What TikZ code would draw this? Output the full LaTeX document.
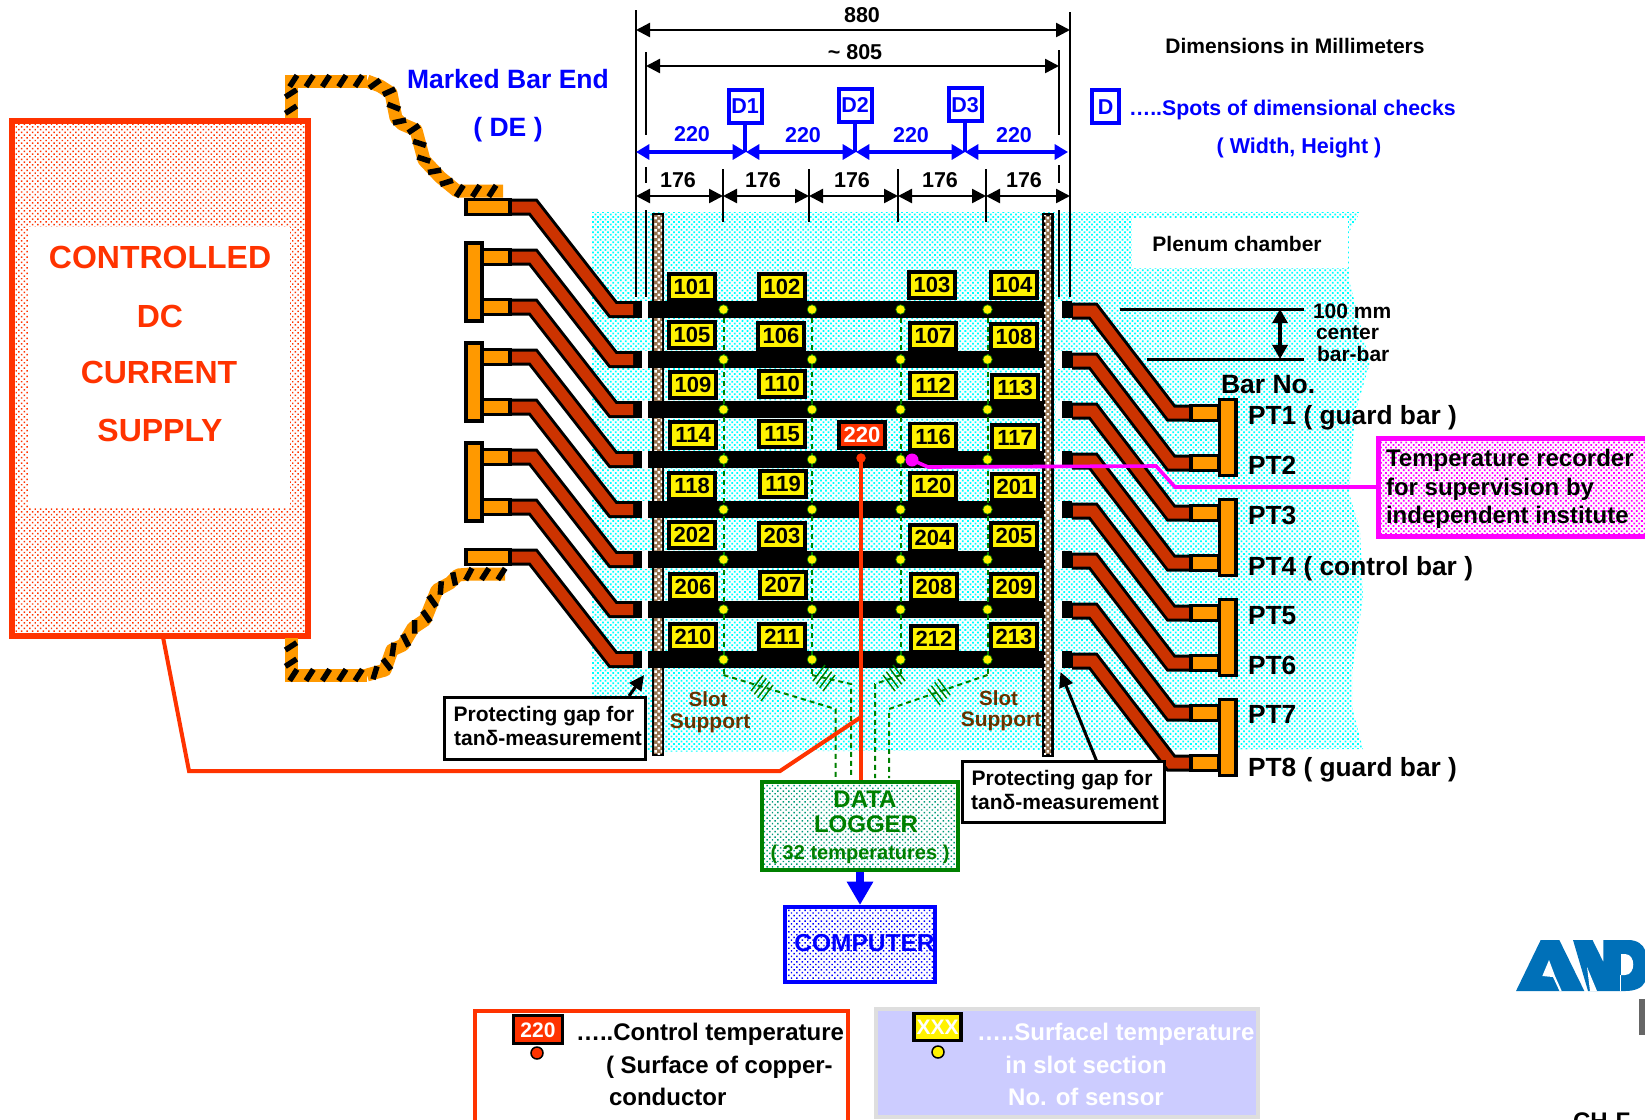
\documentclass[tikz,border=0pt]{standalone}
\usepackage{fontspec}
\setmainfont{Liberation Sans}
\usetikzlibrary{arrows.meta,patterns.meta,decorations.markings,calc}
\definecolor{cred}{HTML}{FF3300}
\definecolor{ccop}{HTML}{CC3300}
\definecolor{corg}{HTML}{FF9900}
\definecolor{cblue}{HTML}{0000FF}
\definecolor{cgreen}{HTML}{008000}
\definecolor{cteal}{HTML}{009A78}
\definecolor{cbrown}{HTML}{663300}
\definecolor{cmag}{HTML}{FF00FF}
\definecolor{ccyan}{HTML}{00FFFF}
\definecolor{clogo}{HTML}{0070B8}
\def\pu{0.6pt}
\tikzset{
  ft/.style={font=\fontsize{\fpeval{#1*0.6}pt}{\fpeval{#1*0.7}pt}\selectfont\bfseries,
     text height=#1*0.43pt,text depth=0pt,inner sep=0pt,outer sep=0pt},
  dotfill/.style={pattern={Dots[angle=45,distance=2.15pt,radius=0.75pt]},pattern color=#1},
  dotlight/.style={pattern={Dots[angle=45,distance=2.3pt,radius=0.62pt]},pattern color=#1},
  dimline/.style={black,line width=2.4*\pu},
  dimarrow/.style={black,line width=2.4*\pu,{Triangle[length=8.4pt,width=8.4pt]}-{Triangle[length=8.4pt,width=8.4pt]}},
  bluearrow/.style={cblue,line width=3.2*\pu,{Triangle[length=8pt,width=9pt]}-{Triangle[length=8pt,width=9pt]}},
  dbox/.style={draw=cblue,line width=4*\pu,fill=white,minimum width=33*\pu,minimum height=33*\pu,inner sep=0pt,ft=21.5,text=cblue},
  barstrip/.style={fill=black,draw=none},
  term/.style={fill=corg,draw=black,line width=3.5*\pu},
  coppero/.style={draw=black,line width=17*\pu,miter limit=10},
  copperi/.style={draw=ccop,line width=11*\pu,miter limit=10},
  templabel/.style={draw=black,line width=3.8*\pu,fill=yellow,minimum width=46.5*\pu,minimum height=26*\pu,ft=22,inner sep=0pt},
  sensor/.style={circle,fill=yellow,draw=green!50!black,line width=0.4pt,minimum size=9.5*\pu,inner sep=0pt},
  gdash/.style={cgreen,line width=2*\pu,dash pattern=on 5*\pu off 4*\pu},
  hatchl/.style={cgreen,line width=1.4*\pu},
  gapbox/.style={draw=black,line width=3*\pu,fill=white},
  stripes/.style={draw=corg,line width=13*\pu,line join=round,
     postaction={decorate,decoration={markings,mark=between positions 5pt and 1 step 9.8pt with
       {\draw[black,line width=3.3pt,line cap=butt] (#1*-2.2pt,-3.4pt)--(#1*2.2pt,3.4pt);}}}},
  slotstrip/.style={fill=cbrown!70!white,draw=black},
  slotdots/.style={pattern={Dots[angle=45,distance=2.6pt,radius=1.05pt]},pattern color=white},
}
\begin{document}
\begin{tikzpicture}[x=0.6pt,y=-0.6pt]
\useasboundingbox (0,0) rectangle (1645,1119);
\clip (0,0) rectangle (1645,1119);
% plenum
\path[dotfill=ccyan] (592,212) -- (1360,212) -- (1349,232) -- (1349,280) -- (1370,363) -- (1355,413) -- (1349,493) -- (1360,530) -- (1363,597) -- (1352,673) -- (1352,707) -- (1363,749) -- (592,752) -- cycle;
\node[fill=white,minimum width=216*\pu,minimum height=50*\pu,inner sep=0pt] (plenumbg) at (1240,243) {};
\node[ft=21] (plenum) at (1237,244) {Plenum chamber};
% slot supports
\path[slotstrip,line width=2.4*\pu] (653,214) rectangle (663,755);
\path[slotdots] (654,215) rectangle (662,754);
\path[slotstrip,line width=3*\pu] (1043,214) rectangle (1052,755);
\path[slotdots] (1044,215) rectangle (1051,754);
% main dimension lines
\coordinate (dl0) at (636,10); \coordinate (dl1) at (636,297);
\coordinate (dr0) at (1070,12); \coordinate (dr1) at (1070,297);
\draw[dimline] (dl0)--(dl1);
\draw[dimline] (dr0)--(dr1);
\draw[dimline] (646,52)--(646,135) (646,167)--(646,183) (646,210)--(646,297);
\draw[dimline] (1059,50)--(1059,135) (1059,165)--(1059,183) (1059,210)--(1059,297);
\node[ft=21.5] (t880) at (862,15) {880};
\draw[dimarrow] (dl0|-0,30)--(dr0|-0,30);
\node[ft=21.5] (t805) at (855,52) {\textasciitilde{} 805};
\draw[dimarrow] (646,66)--(1059,66);
% 176 row
\foreach \x/\n in {723/a,809/b,898/c,986/d}{\coordinate (tk\n) at (\x,169); \draw[dimline] (tk\n)--(\x,222);}
\draw[dimarrow] (636,196)--(723,196);
\draw[dimarrow] (723,196)--(809,196);
\draw[dimarrow] (809,196)--(898,196);
\draw[dimarrow] (898,196)--(986,196);
\draw[dimarrow] (986,196)--(1070,196);
\foreach \x/\n in {678/a,763/b,852/c,940/d,1024/e}{\node[ft=21.5] (s\n) at (\x,180) {176};}
% 220 row
\node[dbox] (D1) at (745,106) {D1};
\node[dbox] (D2) at (855,105) {D2};
\node[dbox] (D3) at (965,104.5) {D3};
\foreach \n in {1,2,3}{\draw[cblue,line width=4*\pu] (D\n.south)--(D\n.south|-0,152);}
\draw[bluearrow] (636,152)--(746,152);
\draw[bluearrow] (746,152)--(856,152);
\draw[bluearrow] (856,152)--(965,152);
\draw[bluearrow] (965,152)--(1068,152);
\foreach \x/\y/\n in {692/134/a,803/135/b,911/135/c,1014/135/d}{\node[ft=21.5,text=cblue] (bl\n) at (\x,\y) {220};}
\node[ft=21] (dimtxt) at (1295,46) {Dimensions in Millimeters};
\node[dbox,minimum width=27*\pu] (Dleg) at (1105.5,106.5) {D};
\node[ft=21.3,text=cblue,anchor=west] (spots) at (1129,108) {…..Spots of dimensional checks};
\node[ft=21.5,text=cblue] (wh) at (1299,146) {( Width, Height )};
\node[ft=26.5,text=cblue] (mbe) at (508,79) {Marked Bar End};
\node[ft=26.5,text=cblue] (de) at (508,127) {( DE )};
% supply
\node[dotlight=cred,draw=cred,line width=6*\pu,minimum width=296*\pu,minimum height=515*\pu,inner sep=0pt] (supply) at (160,378.5) {};
\node[fill=white,minimum width=262*\pu,minimum height=281*\pu,inner sep=0pt] (supplyin) at (159,367.5) {};
\node[ft=32,text=cred] (sa) at (160,257) {CONTROLLED};
\node[ft=32,text=cred] (sb) at (160,316) {DC};
\node[ft=32,text=cred] (sc) at (159,372) {CURRENT};
\node[ft=32,text=cred] (sd) at (160,430) {SUPPLY};
% striped cables
\draw[stripes=-1] (291,118)--(291,87);
\draw[stripes=1] (285,81)--(367,81);
\draw[stripes=1] (367,81) -- (380,86) -- (391,93) -- (396,118) -- (402,124) -- (416,130) -- (424,160) -- (440,177) -- (457,191) -- (503,191);
\draw[stripes=-1] (291,638)--(291,669);
\draw[stripes=1] (285,675)--(367,675);
\draw[stripes=1] (367,675) -- (385,670) -- (392,650) -- (403,645) -- (413,628) -- (425,620) -- (437,590) -- (450,583) -- (458,575) -- (470,574) -- (505,574);
% bars, strips
\foreach \r in {0,...,7}{
  \pgfmathsetmacro\yy{309.5+50*\r}
  \pgfmathsetmacro\yl{\yy-102.5}
  \pgfmathsetmacro\yR{\yy+1.5}
  \pgfmathsetmacro\yS{\yy+103.5}
  \fill[white] (642,\yy-9) rectangle (648,\yy+9);
  \fill[white] (1056,\yy-9) rectangle (1062,\yy+9);
  \node[barstrip,minimum width=395*\pu,minimum height=17*\pu,inner sep=0pt] (bar\r) at (845.5,\yy) {};
  \fill[black] (633,\yy-8.5) rectangle (642,\yy+8.5);
  \fill[black] (1062,\yy-8.5) rectangle (1072,\yy+8.5);
  \draw[coppero] (511,\yl)--(533,\yl)--(613,\yy)--(634,\yy);
  \draw[copperi] (511,\yl)--(533,\yl)--(613,\yy)--(633,\yy);
  \draw[coppero] (1072,\yR)--(1093,\yR)--(1171,\yS)--(1191,\yS);
  \draw[copperi] (1073,\yR)--(1093,\yR)--(1171,\yS)--(1190,\yS);
  \draw[term] (1191,\yS-7.5) rectangle (1219,\yS+7.5);
}
% left terminals
\draw[term] (466,199.5) rectangle (510,214.5);
\draw[term] (466,549.5) rectangle (510,564.5);
\foreach \a in {257,357,457}{
  \pgfmathsetmacro\b{\a+50}
  \draw[term] (482,\a-7.5) rectangle (510,\a+7.5);
  \draw[term] (482,\b-7.5) rectangle (510,\b+7.5);
  \draw[term] (466,\a-14) rectangle (482,\b+14);
}
% right terminals
\foreach \a in {398,498,598,698}{
  \draw[term] (1219.5,\a+1.5) rectangle (1236,\a+77.5);
}
% green dashed lines
\foreach \x/\n in {723.5/a,812/b,900.5/c,987.5/d}{\coordinate (g\n) at (\x,309); \coordinate (h\n) at (\x,675); \draw[gdash] (g\n)--(h\n);}
\coordinate (la) at (835.5,709); \coordinate (lb) at (851,684); \coordinate (lc) at (875,684); \coordinate (ld) at (889,709);
\draw[gdash] (ha)--(la)--(835.5,778);
\draw[gdash] (hb)--(lb)--(851,778);
\draw[gdash] (hc)--(lc)--(875,778);
\draw[gdash] (hd)--(ld)--(889,778);
\foreach \o in {-5,-1.7,1.7,5}{
  \draw[hatchl] (762+\o-6,688+\o+8)--(762+\o+6,688+\o-8);
  \draw[hatchl] (824+\o-6,678+\o+8)--(824+\o+6,678+\o-8);
  \draw[hatchl] (894-\o-6,678+\o-8)--(894-\o+6,678+\o+8);
  \draw[hatchl] (939-\o-6,692+\o-8)--(939-\o+6,692+\o+8);
}
% sensors
\foreach \r in {0,...,7}{
  \pgfmathsetmacro\yy{309.5+50*\r}
  \foreach \x/\n in {723.5/a,812/b,900.5/c,987.5/d}{\node[sensor] (se\r\n) at (\x,\yy) {};}
}
% temperature labels
\foreach \n/\x/\y in {101/692/287,102/782/287,103/932/285,104/1014/285,
  105/692/335,106/781/336,107/933/336,108/1014/337,
  109/693/385,110/782/384,112/933/385.5,113/1015/388,
  114/693/435,115/782/434,116/933/436.5,117/1015/438,
  118/692/486,119/783/484,120/933/486,201/1015/487,
  202/692/535,203/782/536,204/933/538,205/1014/536,
  206/693/587,207/783/585,208/934/587,209/1014/587,
  210/693/637,211/782/637,212/934/639,213/1014/637}{
  \node[templabel] (t\n) at (\x,\y) {\n};
}
\node[templabel,fill=cred,text=white] (tctrl) at (862,435) {220};
% slot support text
\node[ft=20.5,text=cbrown] (sl1) at (708,699) {Slot};
\node[ft=21,text=cbrown] (su1) at (710,721) {Support};
\node[ft=20.5,text=cbrown] (sl2) at (998.5,698) {Slot};
\node[ft=21,text=cbrown] (su2) at (1001,719) {Support};
% logger, computer
\node[dotlight=cteal,draw=cgreen,line width=4.5*\pu,minimum width=196*\pu,minimum height=88*\pu,inner sep=0pt] (logger) at (860,826) {};
\node[ft=24,text=cgreen] (lg1) at (865,799) {DATA};
\node[ft=24,text=cgreen] (lg2) at (866,824) {LOGGER};
\node[ft=20,text=cgreen] (lg3) at (860,852) {( 32 temperatures )};
\node[dotlight=cblue,draw=cblue,line width=4*\pu,minimum width=150*\pu,minimum height=75*\pu,inner sep=0pt] (computer) at (860,944.5) {};
\node[ft=24.5,text=cblue] (cmp) at (864.5,943) {COMPUTER};
\draw[cblue,line width=8*\pu,-{Triangle[length=14pt,width=15pt]}] (logger.south)--(computer.north);
% control line
\node[circle,fill=cred,minimum size=9.5*\pu,inner sep=0pt] (rdot) at (861,458) {};
\draw[cred,line width=3.5*\pu] (rdot.center)--(rdot.center|-logger.north);
\coordinate (sup1) at (163,637);
\coordinate (sup4) at (861,717);
\draw[cred,line width=4*\pu,line join=miter] (sup1)--(189,771)--(780,771)--(sup4);
% gap boxes
\node[gapbox,minimum width=201*\pu,minimum height=62*\pu,inner sep=0pt] (gapl) at (544.5,728) {};
\node[ft=21] (gl1) at (544,714) {Protecting gap for};
\node[ft=21] (gl2) at (548,738) {tanδ-measurement};
\node[gapbox,minimum width=202*\pu,minimum height=61*\pu,inner sep=0pt] (gapr) at (1063,791.5) {};
\node[ft=21] (gr1) at (1062,778) {Protecting gap for};
\node[ft=21] (gr2) at (1065,802) {tanδ-measurement};
\coordinate (ga) at (644,675); \coordinate (gb) at (1060.5,672);
\draw[black,line width=3*\pu,-{Triangle[length=9pt,width=8.5pt]}] (629,696)--(ga);
\draw[black,line width=3*\pu,-{Triangle[length=9pt,width=8.5pt]}] (1097,762)--(gb);
% 100 mm
\coordinate (m1) at (1280,309); \coordinate (m2) at (1280,359);
\draw[black,line width=3*\pu] (1120,309)--(1304,309);
\draw[black,line width=3*\pu] (1147,359)--(1304,359);
\draw[black,line width=3.4*\pu,{Triangle[length=8.5pt,width=9pt]}-{Triangle[length=8.5pt,width=9pt]}] (m1)--(m2);
\node[ft=21,anchor=west] (h1) at (1313,311) {100 mm};
\node[ft=21,anchor=west] (h2) at (1316,332) {center};
\node[ft=21,anchor=west] (h3) at (1317,354) {bar-bar};
% right labels
\node[ft=26.5,anchor=west] (barno) at (1221,384) {Bar No.};
\foreach \n/\y/\t in {1/415/PT1 ( guard bar ),2/465/PT2,3/515/PT3,4/566/PT4 ( control bar ),5/615/PT5,6/665/PT6,7/714/PT7,8/767/PT8 ( guard bar )}{
  \node[ft=26.3,anchor=west] (pt\n) at (1248,\y) {\t};
}
% temperature recorder
\node[dotfill=cmag,draw=cmag,line width=5*\pu,minimum width=323*\pu,minimum height=98*\pu,inner sep=0pt] (trec) at (1540,487) {};
\node[ft=24,anchor=west] (tr1) at (1386,458) {Temperature recorder};
\node[ft=24,anchor=west] (tr2) at (1386,487) {for supervision by};
\node[ft=24,anchor=west] (tr3) at (1386,515) {independent institute};
\node[circle,fill=cmag,minimum size=13*\pu,inner sep=0pt] (mdot) at (912,460) {};
\draw[cmag,line width=3.6*\pu] (mdot.center)--(928,467)--(1156,466)--(1175,487)--(trec.west);
% legends
\path[draw=cred,line width=4.5*\pu,fill=white] (475,1011) rectangle (848,1150);
\node[draw=black,line width=3.8*\pu,fill=cred,text=white,ft=21,minimum width=49*\pu,minimum height=28*\pu] (lg220) at (538,1029.5) {220};
\node[circle,fill=cred,draw=black,line width=1.5*\pu,minimum size=12*\pu,inner sep=0pt] (ldot1) at (537,1053) {};
\node[ft=24,anchor=west] (lt1) at (576,1032) {…..Control temperature};
\node[ft=24,anchor=west] (lt2) at (606,1065) {( Surface of copper-};
\node[ft=24,anchor=west] (lt3) at (609,1097) {conductor};
\path[draw=black!13,line width=4*\pu,fill=blue!20] (876,1009) rectangle (1258,1117);
\node[draw=black,line width=3.8*\pu,fill=yellow,text=white,ft=21,minimum width=47*\pu,minimum height=27*\pu] (lgx) at (937.5,1027) {XXX};
\node[circle,fill=yellow,draw=black,line width=1.5*\pu,minimum size=12*\pu,inner sep=0pt] (ldot2) at (938,1052) {};
\node[ft=24,anchor=west,text=white] (lu1) at (977,1032) {…..Surfacel temperature};
\node[ft=24,text=white] (lu2) at (1086,1065) {in slot section};
\node[ft=24,text=white] (lu3) at (1086,1097) {No. of sensor};
% logo (cropped)
\fill[clogo] (1516,991)--(1540.7,940)--(1559.3,940)--(1584.3,991)--cycle;
\fill[white] (1542.3,976)--(1549,960)--(1555,976)--(1561.7,991)--(1559.5,991)--(1553,977)--cycle;
\fill[clogo] (1573,940)--(1592.5,940)--(1603.3,962)--(1603.3,940)--(1628,940) .. controls (1638,940) and (1643,945) .. (1645,950)--(1645,982) .. controls (1642,988) and (1635,991) .. (1625,991)--(1588,991)--cycle;
\fill[white] (1587,967)--(1597,991)--(1590,991)--cycle;
\fill[white] (1621,954)--(1625,954) .. controls (1636,954) and (1636,975) .. (1625,975)--(1621,975)--cycle;
\fill[white] (1620,975) rectangle (1621,991);
\fill[black!60!white] (1639,999) rectangle (1645,1035);
\node[ft=24,anchor=west] (chf) at (1573,1121) {CH-F};
\end{tikzpicture}
\end{document}
